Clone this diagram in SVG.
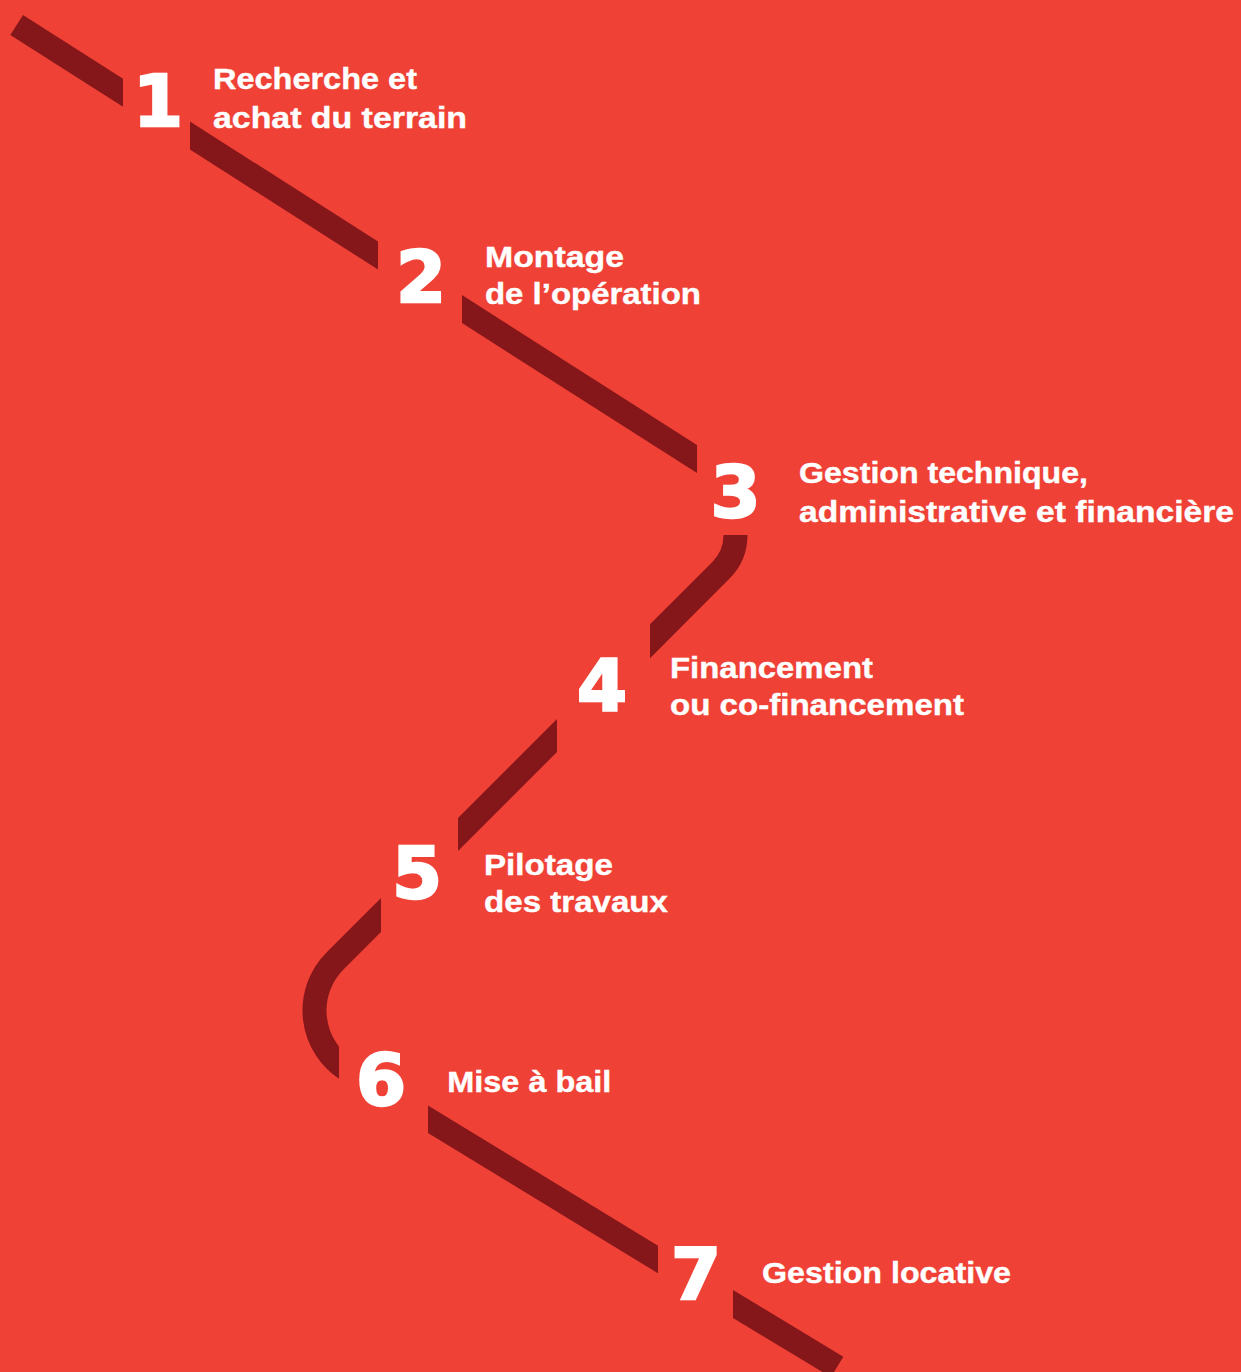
<svg xmlns="http://www.w3.org/2000/svg" width="1241" height="1372" viewBox="0 0 1241 1372">
  <style>
    .seg { fill: #85161A; }
    .segs { fill: none; stroke: #85161A; stroke-width: 24; stroke-linecap: butt; stroke-linejoin: round; }
    .num { font-family: "DejaVu Sans", "Liberation Sans", sans-serif; font-weight: bold; font-size: 72px; fill: #FFFFFF; stroke: #FFFFFF; stroke-width: 2.4; stroke-linejoin: miter; text-anchor: middle; }
    .lbl { font-family: "Liberation Sans", Arial, sans-serif; font-weight: bold; font-size: 30px; fill: #FFFFFF; stroke: #FFFFFF; stroke-width: 0.4; }
  </style>
  <defs>
    <clipPath id="clipD">
      <rect x="650" y="530" width="150" height="180"/>
    </clipPath>
    <clipPath id="clipF">
      <polygon points="250,880 381,880 381,1000 339,1000 339,1100 250,1100"/>
    </clipPath>
  </defs>
  <rect x="0" y="0" width="1241" height="1372" fill="#EF4136"/>

  <g id="connectors">
    <polygon class="seg" points="23,15 123,78.8 123,106.8 10.3,34.9"/>
    <polygon class="seg" points="190,121.5 378,241.5 378,269.5 190,149.5"/>
    <polygon class="seg" points="462,295.1 697,445 697,473 462,323.1"/>
    <path class="segs" clip-path="url(#clipD)" d="M735.5,535 A50,50 0 0 1 720.86,570.36 L620,671.2"/>
    <polygon class="seg" points="557,719 557,752 458,851 458,818"/>
    <path class="segs" clip-path="url(#clipF)" d="M400,896 L335,961 A70,70 0 0 0 348.05,1070.26"/>
    <polygon class="seg" points="428,1105.5 658,1245.8 658,1273.3 428,1133"/>
    <polygon class="seg" points="733,1290 843.3,1356.7 830.9,1377.1 733,1318"/>
  </g>

  <g id="step-1">
    <text class="num" x="158" y="126">1</text>
    <text class="lbl" x="213" y="89.3" textLength="204" lengthAdjust="spacingAndGlyphs">Recherche et</text>
    <text class="lbl" x="213" y="128" textLength="254" lengthAdjust="spacingAndGlyphs">achat du terrain</text>
  </g>
  <g id="step-2">
    <text class="num" x="421" y="302">2</text>
    <text class="lbl" x="485" y="266.7" textLength="139" lengthAdjust="spacingAndGlyphs">Montage</text>
    <text class="lbl" x="485" y="304" textLength="216" lengthAdjust="spacingAndGlyphs">de l’opération</text>
  </g>
  <g id="step-3">
    <text class="num" x="735.5" y="517">3</text>
    <text class="lbl" x="799" y="483" textLength="289" lengthAdjust="spacingAndGlyphs">Gestion technique,</text>
    <text class="lbl" x="799" y="521.7" textLength="435" lengthAdjust="spacingAndGlyphs">administrative et financière</text>
  </g>
  <g id="step-4">
    <text class="num" x="602" y="710">4</text>
    <text class="lbl" x="670" y="677.5" textLength="203" lengthAdjust="spacingAndGlyphs">Financement</text>
    <text class="lbl" x="670" y="715" textLength="294" lengthAdjust="spacingAndGlyphs">ou co-financement</text>
  </g>
  <g id="step-5">
    <text class="num" x="417" y="898">5</text>
    <text class="lbl" x="484" y="875" textLength="129" lengthAdjust="spacingAndGlyphs">Pilotage</text>
    <text class="lbl" x="484" y="911.7" textLength="184" lengthAdjust="spacingAndGlyphs">des travaux</text>
  </g>
  <g id="step-6">
    <text class="num" x="381" y="1105">6</text>
    <text class="lbl" x="447.3" y="1091.7" textLength="164" lengthAdjust="spacingAndGlyphs">Mise à bail</text>
  </g>
  <g id="step-7">
    <text class="num" x="696" y="1299">7</text>
    <text class="lbl" x="762" y="1283" textLength="249" lengthAdjust="spacingAndGlyphs">Gestion locative</text>
  </g>
</svg>
